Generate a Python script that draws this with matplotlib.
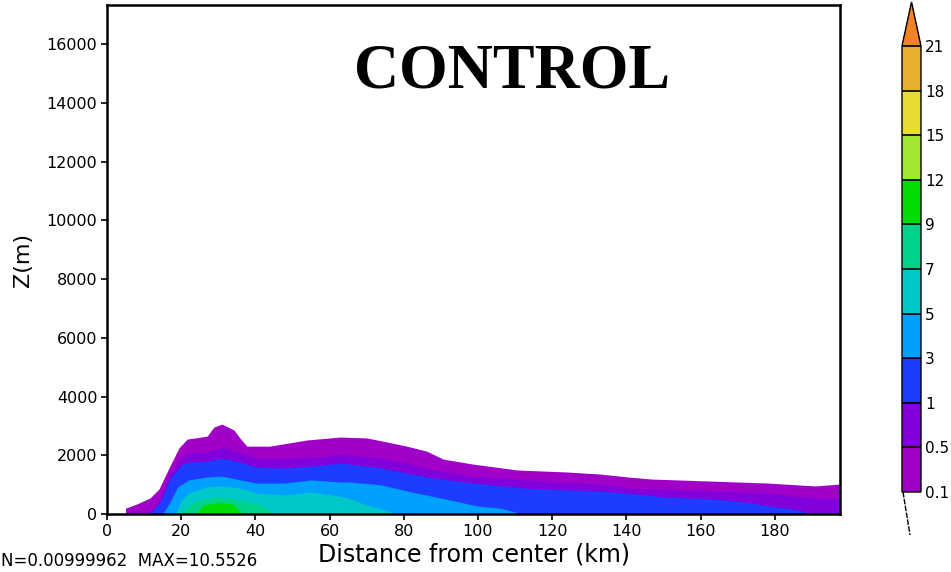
import numpy as np
import matplotlib
matplotlib.use('Agg')
import matplotlib.pyplot as plt
from matplotlib.colors import ListedColormap, BoundaryNorm
from matplotlib.cm import ScalarMappable
from matplotlib.lines import Line2D

# contour levels and GrADS-style colours
levels = [0.1, 0.5, 1, 3, 5, 7, 9, 12, 15, 18, 21]
level_labels = ['0.1', '0.5', '1', '3', '5', '7', '9', '12', '15', '18', '21']
colors = ['#A000C8', '#8200DC', '#1E3CFF', '#00A0FF', '#00C8C8',
          '#00D28C', '#00DC00', '#A0E632', '#E6DC32', '#E6AF2D']
over_color = '#F08228'

# top of each filled level (distance km, height m)
lev01_x = [5, 8, 11.6, 14, 16.7, 19.4, 21.6, 27, 28.8, 31, 34.2, 35.8, 37.7, 43.9,
           53.9, 62.8, 70, 74.4, 80.8, 86.2, 90.6, 98.6, 110.5, 124, 133, 140.4,
           146.9, 163, 178, 190.8, 197.6]
lev01_z = [200, 340, 545, 850, 1565, 2250, 2550, 2650, 2960, 3060, 2860, 2590, 2310, 2310,
           2520, 2620, 2590, 2480, 2310, 2140, 1870, 1700, 1500, 1430, 1360, 1260,
           1190, 1120, 1055, 955, 1020]

lev05_x = [11, 14, 17, 20, 22, 27, 31, 35.8, 40, 48, 58, 63, 65.5, 74, 82, 88, 99,
           112, 133, 140, 163, 178, 191, 197.6]
lev05_z = [0, 450, 1400, 1900, 2075, 2110, 2280, 2110, 1900, 1900, 1940, 2040, 2010,
           1900, 1700, 1500, 1290, 1160, 1020, 885, 780, 715, 545, 545]

lev1_x = [11.6, 14.5, 17, 20, 22, 27, 31, 36, 40, 48, 58, 63, 65.5, 74, 82, 88, 99,
          112, 133, 140, 150, 163, 172, 180, 183.5, 186, 190]
lev1_z = [0, 450, 1225, 1670, 1770, 1800, 1900, 1770, 1600, 1565, 1670, 1735, 1700,
          1565, 1360, 1225, 1055, 885, 780, 715, 580, 510, 410, 240, 200, 140, 0]

lev3_x = [15, 17, 19, 22, 27, 31, 36, 40, 48, 55, 63, 65.5, 74, 82, 90, 100, 106, 110, 111]
lev3_z = [0, 410, 920, 1160, 1260, 1290, 1160, 1055, 1055, 1160, 1090, 1090, 990, 750,
          545, 270, 200, 70, 0]

lev5_x = [18.4, 20, 22, 27, 31, 36, 40, 48, 55, 63, 66, 70, 75, 78]
lev5_z = [0, 475, 715, 920, 955, 885, 715, 650, 750, 600, 500, 305, 136, 0]

lev7_x = [20, 22, 25, 29, 33, 37, 42, 45]
lev7_z = [0, 305, 475, 580, 545, 440, 270, 0]

lev9_x = [24, 26, 30, 34, 36.5]
lev9_z = [0, 305, 400, 340, 0]

bands = [(lev01_x, lev01_z), (lev05_x, lev05_z), (lev1_x, lev1_z), (lev3_x, lev3_z),
         (lev5_x, lev5_z), (lev7_x, lev7_z), (lev9_x, lev9_z)]

x_ticks = list(range(0, 181, 20))
y_ticks = list(range(0, 16001, 2000))

fig = plt.figure(figsize=(9.51, 5.72), dpi=100)
ax = fig.add_axes([107 / 951, 58 / 572, 733 / 951, 509 / 572])

for (bx, bz), c in zip(bands, colors):
    ax.fill_between(bx, 0, bz, color=c, linewidth=0)

ax.set_xlim(0, 197.6)
ax.set_ylim(0, 17330)
ax.set_xticks(x_ticks)
ax.set_xticklabels([str(t) for t in x_ticks])
ax.set_yticks(y_ticks)
ax.set_yticklabels([str(t) for t in y_ticks])
ax.tick_params(direction='out', length=4, width=1.2, labelsize=11.5, pad=3, colors='black')
for s in ax.spines.values():
    s.set_linewidth(1.8)

ax.set_xlabel('Distance from center (km)', fontsize=17, labelpad=3)
ax.set_ylabel('Z(m)', fontsize=16, labelpad=10)

fig.text(512 / 951, (572 - 88) / 572, 'CONTROL', fontsize=45, fontweight='bold',
         family='Liberation Serif', ha='center', va='baseline')
# the MIN= part is clipped off the left edge in the original
fig.text(1 / 951, (572 - 566) / 572, 'N=0.00999962  MAX=10.5526', fontsize=12,
         ha='left', va='baseline')

# colour bar (cax covers the bar plus the top triangle)
cmap = ListedColormap(colors)
cmap.set_over(over_color)
norm = BoundaryNorm(levels, cmap.N)
sm = ScalarMappable(norm=norm, cmap=cmap)
cax = fig.add_axes([902 / 951, 80 / 572, 19 / 951, 490 / 572])
cb = fig.colorbar(sm, cax=cax, extend='max', extendfrac=44 / 446, drawedges=True,
                  ticks=levels)
cb.ax.set_yticklabels(level_labels)
cb.ax.tick_params(length=0, labelsize=11, pad=3)
cb.outline.set_linewidth(1.0)
cb.dividers.set_linewidth(1.2)
fig.add_artist(Line2D([903 / 951, 910 / 951], [80 / 572, 37 / 572], color='black',
                      linewidth=1.0, linestyle=(0, (4, 1))))

plt.savefig('out.png', dpi=100)
